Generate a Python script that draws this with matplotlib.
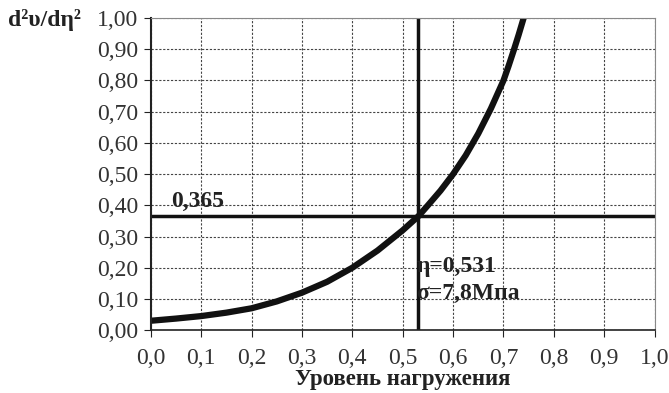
import matplotlib
matplotlib.use("Agg")
import matplotlib.pyplot as plt
import numpy as np

# Data
eta = [0.0, 0.05, 0.1, 0.15, 0.2, 0.25, 0.3, 0.35, 0.4, 0.45, 0.5, 0.531, 0.55, 0.575, 0.6, 0.625,
       0.65, 0.675, 0.7, 0.71, 0.72, 0.73, 0.74]
d2 = [0.030, 0.037, 0.045, 0.056, 0.070, 0.092, 0.120, 0.155, 0.200, 0.255, 0.320, 0.365, 0.400, 0.447, 0.500, 0.560,
      0.630, 0.710, 0.800, 0.846, 0.895, 0.946, 1.000]
eta_crit = 0.531
d2_crit = 0.365
xticks = [i / 10 for i in range(11)]
yticks = [i / 10 for i in range(11)]
xlabels = ["0,0", "0,1", "0,2", "0,3", "0,4", "0,5", "0,6", "0,7", "0,8", "0,9", "1,0"]
ylabels = ["0,00", "0,10", "0,20", "0,30", "0,40", "0,50", "0,60", "0,70", "0,80", "0,90", "1,00"]

plt.rcParams['font.family'] = ['Liberation Serif', 'DejaVu Serif']

fig = plt.figure(figsize=(6.69, 3.93), dpi=100)
ax = fig.add_axes([0.2255, 0.16, 0.753, 0.794])
ax.set_xlim(0, 1.0)
ax.set_ylim(0, 1.0)

ax.grid(True, color="#444444", linestyle=(0, (2, 1.5)), linewidth=0.8)
ax.set_axisbelow(True)

ax.plot(eta, d2, color="#111111", linewidth=4.5, solid_capstyle="butt", solid_joinstyle="round", clip_on=True)
ax.axhline(d2_crit, color="#111111", linewidth=2.5)
ax.axvline(eta_crit, color="#111111", linewidth=2.5)

ax.set_xticks(xticks)
ax.set_xticklabels(xlabels)
ax.set_yticks(yticks)
ax.set_yticklabels(ylabels)
ax.tick_params(axis="x", direction="out", length=5, pad=8, labelsize=17, color="#222222", labelcolor="#333333")
ax.tick_params(axis="y", direction="out", length=5, pad=4, labelsize=17, color="#222222", labelcolor="#333333")

for s in ["top", "right"]:
    ax.spines[s].set_color("#888888")
    ax.spines[s].set_linewidth(0.8)
ax.spines["left"].set_color("#222222")
ax.spines["left"].set_linewidth(1.5)
ax.spines["bottom"].set_color("#222222")
ax.spines["bottom"].set_linewidth(1.2)

ax.set_xlabel("Уровень нагружения", fontsize=16.5, fontweight="bold", labelpad=0, color="#222222")
fig.text(0.012, 0.948, "d²υ/dη²", fontsize=17, fontweight="bold", color="#222222", ha="left", va="center")

ax.text(0.04, d2_crit + 0.015, "0,365", fontsize=17, fontweight="bold", color="#222222", ha="left", va="bottom")
ax.text(eta_crit - 0.004, 0.205, "η=0,531", fontsize=17, fontweight="bold", color="#222222", ha="left", va="center")
ax.text(eta_crit - 0.004, 0.118, "σ=7,8Мпа", fontsize=17, fontweight="bold", color="#222222", ha="left", va="center")

fig.savefig("out.png", dpi=100)
